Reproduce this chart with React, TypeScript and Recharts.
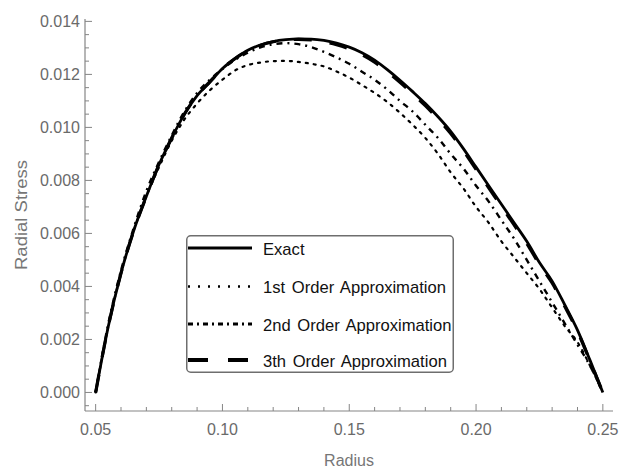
import React from 'react';
import { LineChart, Line, XAxis, YAxis, Legend } from 'recharts';

// ---------- data ----------
const radius = [
  0.05, 0.055, 0.06, 0.065, 0.07, 0.075, 0.08, 0.085, 0.09, 0.095,
  0.1, 0.105, 0.11, 0.115, 0.12, 0.125, 0.13, 0.135, 0.14, 0.145,
  0.15, 0.155, 0.16, 0.165, 0.17, 0.175, 0.18, 0.185, 0.19, 0.195,
  0.2, 0.205, 0.21, 0.215, 0.22, 0.225, 0.23, 0.235, 0.24, 0.245, 0.25,
];

const exact = [
  0, 0.0025, 0.0045, 0.0061, 0.0074, 0.0086, 0.0096, 0.0105, 0.0112, 0.0117,
  0.01222, 0.0126, 0.01291, 0.01311, 0.01324, 0.01331, 0.01334, 0.01333, 0.01328, 0.01318,
  0.01303, 0.01282, 0.01254, 0.01218, 0.01178, 0.01135, 0.0109, 0.0104, 0.00985, 0.0092,
  0.0085, 0.0078, 0.0071, 0.0064, 0.0057, 0.0049, 0.0042, 0.0033, 0.00235, 0.0012, 0,
];

const firstOrder = [
  0, 0.0025, 0.0045, 0.0061, 0.0074, 0.0085, 0.0095, 0.0103, 0.0109, 0.0114,
  0.0118, 0.01215, 0.01235, 0.01245, 0.0125, 0.01251, 0.01247, 0.0124, 0.0123, 0.01211,
  0.01188, 0.0116, 0.0113, 0.01096, 0.01055, 0.0101, 0.0096, 0.009, 0.0083, 0.0077,
  0.007, 0.0064, 0.0057, 0.0051, 0.0045, 0.0039, 0.0032, 0.0025, 0.0019, 0.001, 0,
];

const secondOrder = [
  0, 0.0026, 0.0046, 0.0062, 0.0076, 0.0087, 0.0097, 0.0106, 0.0113, 0.0118,
  0.0122, 0.01255, 0.01282, 0.01302, 0.01314, 0.01318, 0.01314, 0.01303, 0.01285, 0.01264,
  0.0124, 0.0121, 0.0118, 0.01143, 0.0110, 0.0106, 0.0101, 0.0096, 0.009, 0.00845,
  0.0078, 0.0072, 0.0065, 0.0058, 0.005, 0.0042, 0.0034, 0.0026, 0.0018, 0.001, 0,
];

const thirdOrder = [
  0, 0.0025, 0.0045, 0.0061, 0.0074, 0.0086, 0.0096, 0.0105, 0.0112, 0.01172,
  0.01222, 0.0126, 0.0129, 0.0131, 0.01323, 0.0133, 0.01332, 0.0133, 0.01323, 0.01312,
  0.01296, 0.01274, 0.01246, 0.0121, 0.0117, 0.01127, 0.01082, 0.01032, 0.00977, 0.00912,
  0.00842, 0.00772, 0.00702, 0.00632, 0.00562, 0.00483, 0.00413, 0.00324, 0.0023, 0.00117, 0,
];

const seriesNames = [
  'Exact',
  '1st Order Approximation',
  '2nd Order Approximation',
  '3th Order Approximation',
];

const xTicks = [
  0.05, 0.06, 0.07, 0.08, 0.09, 0.1, 0.11, 0.12, 0.13, 0.14, 0.15,
  0.16, 0.17, 0.18, 0.19, 0.2, 0.21, 0.22, 0.23, 0.24, 0.25,
];
const xLabelTicks = [0.05, 0.1, 0.15, 0.2, 0.25];
const xLabelText = ['0.05', '0.10', '0.15', '0.20', '0.25'];

const yTicks = [
  -0.0005, 0, 0.0005, 0.001, 0.0015, 0.002, 0.0025, 0.003, 0.0035, 0.004, 0.0045,
  0.005, 0.0055, 0.006, 0.0065, 0.007, 0.0075, 0.008, 0.0085, 0.009, 0.0095,
  0.01, 0.0105, 0.011, 0.0115, 0.012, 0.0125, 0.013, 0.0135, 0.014,
];
const yLabelTicks = [0, 0.002, 0.004, 0.006, 0.008, 0.01, 0.012, 0.014];
const yLabelText = ['0.000', '0.002', '0.004', '0.006', '0.008', '0.010', '0.012', '0.014'];

const X_DOMAIN: [number, number] = [0.0458, 0.254];
const Y_DOMAIN: [number, number] = [-0.0007, 0.01409];

const data = radius.map((r, i) => ({
  r,
  exact: exact[i],
  first: firstOrder[i],
  second: secondOrder[i],
  third: thirdOrder[i],
}));

// ---------- styles ----------
const FONT = '"Liberation Sans", Arial, sans-serif';
const FRAME = '#858585';
const TICK_TEXT = '#6a6a6a';

const seriesStyles = [
  { key: 'exact', width: 2.8, dash: undefined as string | undefined, legendDash: undefined as string | undefined },
  { key: 'first', width: 2.2, dash: '2 6', legendDash: '2 8' },
  { key: 'second', width: 2.4, dash: '6 5 2 5', legendDash: '5 4 2 4' },
  { key: 'third', width: 3.2, dash: '18 18', legendDash: '20 20' },
];

const findIdx = (arr: number[], v: number) => arr.findIndex((t) => Math.abs(t - v) < 1e-9);

// ---------- ticks ----------
const BottomTick = (props: any) => {
  const { x, y, payload } = props;
  const idx = findIdx(xLabelTicks, payload.value);
  const major = idx >= 0;
  return (
    <g>
      <line x1={x} x2={x} y1={y} y2={y - (major ? 7 : 4)} stroke={FRAME} strokeWidth={1} />
      {major && (
        <text x={x} y={y + 24} textAnchor="middle" fontSize={16} fill={TICK_TEXT} fontFamily={FONT}>
          {xLabelText[idx]}
        </text>
      )}
    </g>
  );
};

const TopTick = (props: any) => {
  const { x, y, payload } = props;
  const major = findIdx(xLabelTicks, payload.value) >= 0;
  return <line x1={x} x2={x} y1={y} y2={y + (major ? 7 : 4)} stroke={FRAME} strokeWidth={1} />;
};

const LeftTick = (props: any) => {
  const { x, y, payload } = props;
  const idx = findIdx(yLabelTicks, payload.value);
  const major = idx >= 0;
  return (
    <g>
      <line x1={x} x2={x + (major ? 7 : 4)} y1={y} y2={y} stroke={FRAME} strokeWidth={1} />
      {major && (
        <text x={x - 5} y={y + 6} textAnchor="end" fontSize={16} fill={TICK_TEXT} fontFamily={FONT}>
          {yLabelText[idx]}
        </text>
      )}
    </g>
  );
};

const RightTick = (props: any) => {
  const { x, y, payload } = props;
  const major = findIdx(yLabelTicks, payload.value) >= 0;
  return <line x1={x} x2={x - (major ? 7 : 4)} y1={y} y2={y} stroke={FRAME} strokeWidth={1} />;
};

// ---------- legend ----------
const LEG_W = 268;
const LEG_H = 138;
const legendRowY = [13, 51.5, 89, 125];

const renderLegend = () => (
  <svg width={LEG_W} height={LEG_H} style={{ display: 'block', overflow: 'visible' }}>
    <rect x={0.75} y={0.75} width={LEG_W - 1.5} height={LEG_H - 1.5} rx={4} ry={4} fill="#fff" stroke="#6e6e6e" strokeWidth={1.5} />
    {seriesNames.map((name, i) => {
      const s = seriesStyles[i];
      const y = legendRowY[i];
      return (
        <g key={name}>
          <line x1={2} x2={66} y1={y} y2={y} stroke="#000" strokeWidth={i === 3 ? 4 : i === 1 ? 2.4 : 3}
            strokeDasharray={s.legendDash} />
          <text x={77} y={y + 6.5} fontSize={16.6} fill="#111" fontFamily={FONT} wordSpacing={2}>
            {name}
          </text>
        </g>
      );
    })}
  </svg>
);

// ---------- axis labels ----------
const YLabel = (props: any) => {
  const vb = props.viewBox || {};
  const cy = (vb.y ?? 19) + (vb.height ?? 392) / 2;
  const cx = 21;
  return (
    <text x={cx} y={cy} transform={`rotate(-90, ${cx}, ${cy})`} textAnchor="middle" dominantBaseline="central"
      fontSize={16} fill="#767676" fontFamily={FONT} textLength={110} lengthAdjust="spacingAndGlyphs">
      Radial Stress
    </text>
  );
};

const XLabel = (props: any) => {
  const vb = props.viewBox || {};
  const cx = (vb.x ?? 85) + (vb.width ?? 528) / 2;
  return (
    <text x={cx} y={466} textAnchor="middle" fontSize={16} fill="#767676" fontFamily={FONT}>
      Radius
    </text>
  );
};

export default function App() {
  return (
    <div style={{ position: 'absolute', left: 0, top: 0, width: 622, height: 468, background: '#fff' }}>
      <LineChart width={622} height={468} data={data} margin={{ top: 19, right: 9, bottom: 0, left: 0 }}>
        <XAxis
          xAxisId="bottom"
          dataKey="r"
          type="number"
          domain={X_DOMAIN}
          allowDataOverflow
          ticks={xTicks}
          interval={0}
          height={57}
          tickSize={0}
          tickMargin={0}
          tickLine={false}
          axisLine={{ stroke: FRAME, strokeWidth: 1.2 }}
          tick={<BottomTick />}
          label={XLabel}
        />
        <XAxis
          xAxisId="top"
          orientation="top"
          dataKey="r"
          type="number"
          domain={X_DOMAIN}
          allowDataOverflow
          ticks={xTicks}
          interval={0}
          height={0}
          tickSize={0}
          tickMargin={0}
          tickLine={false}
          axisLine={{ stroke: FRAME, strokeWidth: 1.2 }}
          tick={<TopTick />}
        />
        <YAxis
          yAxisId="left"
          type="number"
          domain={Y_DOMAIN}
          allowDataOverflow
          ticks={yTicks}
          interval={0}
          width={85}
          tickSize={0}
          tickMargin={0}
          tickLine={false}
          axisLine={{ stroke: FRAME, strokeWidth: 1.2 }}
          tick={<LeftTick />}
          label={YLabel}
        />
        <YAxis
          yAxisId="right"
          orientation="right"
          type="number"
          domain={Y_DOMAIN}
          allowDataOverflow
          ticks={yTicks}
          interval={0}
          width={0}
          tickSize={0}
          tickMargin={0}
          tickLine={false}
          axisLine={{ stroke: FRAME, strokeWidth: 1.2 }}
          tick={<RightTick />}
        />
        <Line xAxisId="bottom" yAxisId="left" type="monotone" dataKey="first" name={seriesNames[1]} stroke="#000"
          strokeWidth={seriesStyles[1].width} strokeDasharray={seriesStyles[1].dash} strokeLinecap="round"
          dot={false} activeDot={false} isAnimationActive={false} />
        <Line xAxisId="bottom" yAxisId="left" type="monotone" dataKey="second" name={seriesNames[2]} stroke="#000"
          strokeWidth={seriesStyles[2].width} strokeDasharray={seriesStyles[2].dash}
          dot={false} activeDot={false} isAnimationActive={false} />
        <Line xAxisId="bottom" yAxisId="left" type="monotone" dataKey="exact" name={seriesNames[0]} stroke="#000"
          strokeWidth={seriesStyles[0].width}
          dot={false} activeDot={false} isAnimationActive={false} />
        <Line xAxisId="bottom" yAxisId="left" type="monotone" dataKey="third" name={seriesNames[3]} stroke="#000"
          strokeWidth={seriesStyles[3].width} strokeDasharray={seriesStyles[3].dash}
          dot={false} activeDot={false} isAnimationActive={false} />
        <Legend
          layout="horizontal"
          verticalAlign="middle"
          align="center"
          wrapperStyle={{ left: 186, top: 235, width: LEG_W, height: LEG_H }}
          content={renderLegend}
        />
      </LineChart>
    </div>
  );
}
